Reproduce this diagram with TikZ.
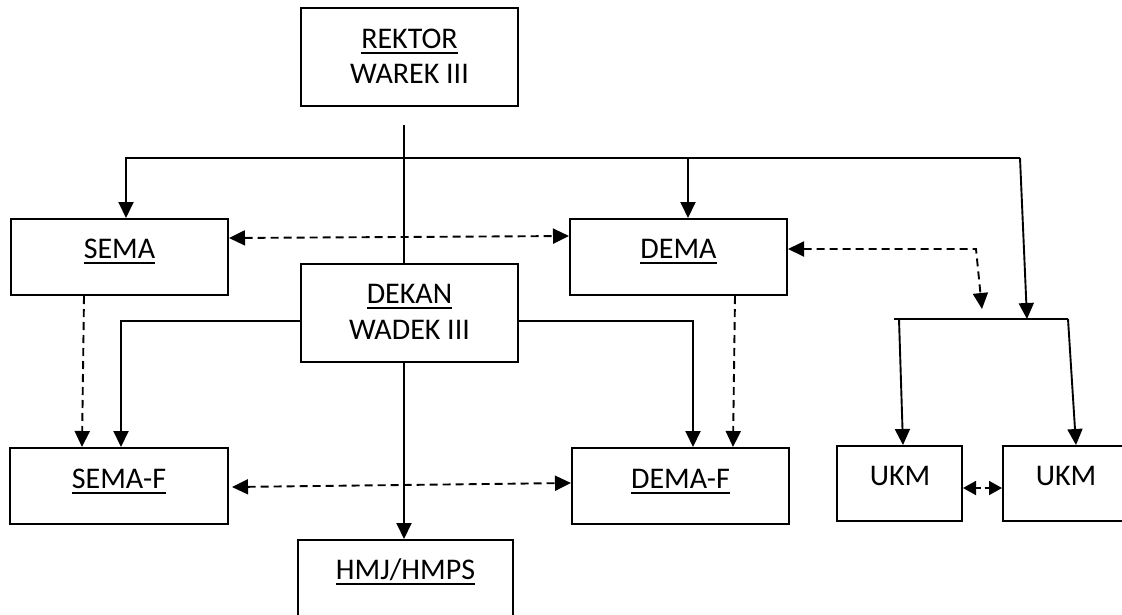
\documentclass[tikz,border=0pt]{standalone}
\usepackage{fontspec}
\setmainfont{Carlito}
\usetikzlibrary{arrows.meta,calc}
\newcommand\ulbox[1]{\setbox0\hbox{#1}\rlap{\rule[-5.5pt]{\wd0}{2pt}}\box0}
\tikzset{
  box/.style={draw, line width=2pt, fill=none, inner sep=0pt},
  lbl/.style={anchor=base, inner sep=0pt, font=\fontsize{30}{36}\selectfont},
  ln/.style={line width=1.9pt},
  tip/.style={},
  arr/.style={line width=1.9pt, -{Triangle[length=16pt,width=15pt]}},
  darr/.style={line width=1.9pt, dash pattern=on 8pt off 5pt, -{Triangle[length=16pt,width=15pt]}},
  ddarr/.style={line width=1.9pt, dash pattern=on 8pt off 5pt, {Triangle[length=16pt,width=15pt]}-{Triangle[length=16pt,width=15pt]}},
  sdarr/.style={line width=1.9pt, dash pattern=on 5pt off 4pt, {Triangle[length=13pt,width=14pt]}-{Triangle[length=13pt,width=14pt]}},
}
\begin{document}
\begin{tikzpicture}[x=1pt,y=-1pt]
\clip (0,0) rectangle (1122,614);
\fill[white] (0,0) rectangle (1122,614);
% boxes
\node[box, minimum width=217pt, minimum height=98pt] (rektor) at (409.5,57) {};
\node[box, minimum width=217pt, minimum height=76pt] (sema) at (119.5,257) {};
\node[box, minimum width=217pt, minimum height=76pt] (dema) at (678.5,257) {};
\node[box, minimum width=217pt, minimum height=98pt] (dekan) at (409.5,313) {};
\node[box, minimum width=218pt, minimum height=76pt] (semaf) at (119,486) {};
\node[box, minimum width=217pt, minimum height=76pt] (demaf) at (680.5,486) {};
\node[box, minimum width=215pt, minimum height=98pt] (hmj) at (405.5,589) {};
\node[box, minimum width=125pt, minimum height=75pt] (ukma) at (899.5,483.5) {};
\node[box, minimum width=126pt, minimum height=75pt] (ukmb) at (1066,483.5) {};
% labels
\node[lbl] (t1) at (409.5,48) {\ulbox{REKTOR}};
\node[lbl] (t2) at (409.5,83) {WAREK III};
\node[lbl] (t3) at (119.5,258) {\ulbox{SEMA}};
\node[lbl] (t4) at (678.5,258) {\ulbox{DEMA}};
\node[lbl] (t5) at (409.5,303) {\ulbox{DEKAN}};
\node[lbl] (t6) at (409.5,339) {WADEK III};
\node[lbl] (t7) at (119,488) {\ulbox{SEMA-F}};
\node[lbl] (t8) at (680.5,488) {\ulbox{DEMA-F}};
\node[lbl] (t9) at (405.5,579) {\ulbox{HMJ/HMPS}};
\node[lbl] (t10) at (900,485) {UKM};
\node[lbl] (t11) at (1066,485) {UKM};
% coordinates
\coordinate (rtop) at (404,125);
\coordinate (hl) at (126,158);
\coordinate (hd) at (688,158);
\coordinate (hr) at (1020,158);
\coordinate (bt) at (1027,319);
\coordinate (bl) at (894,319);
\coordinate (br) at (1068,319);
\coordinate (kl) at (121,321);
\coordinate (kr) at (693,321);
\coordinate (dc) at (976,249);
\coordinate (dt) at (982,309);
% connectors
\draw[ln] (rtop) -- (rtop |- dekan.north);
\draw[arr] (hr) -- (hl) -- (hl |- sema.north);
\draw[arr] (hd) -- (hd |- dema.north);
\draw[arr] (hr) -- (bt);
\draw[ln] (bl) -- (br);
\draw[arr] (899,319) -- ($(ukma.north)+(3.5,0)$);
\draw[arr] (br) -- ($(ukmb.north)+(10,0)$);
\draw[ddarr] (sema.east |- 0,238) -- (dema.west |- 0,236);
\draw[ddarr] (dema.east |- dc) -- (dc) -- (dt);
\draw[arr] (dekan.west |- kl) -- (kl) -- (kl |- semaf.north);
\draw[arr] (dekan.east |- kr) -- (kr) -- (kr |- demaf.north);
\draw[darr] (sema.south -| 84,0) -- (82,0 |- semaf.north);
\draw[darr] (dema.south -| 735,0) -- (733,0 |- demaf.north);
\draw[arr] (dekan.south -| rtop) -- (rtop |- hmj.north);
\draw[ddarr] ($(semaf.east)+(3,1)$) -- ($(demaf.west)+(0,-3)$);
\draw[sdarr] (ukma.east |- 0,488) -- (ukmb.west |- 0,488);
\end{tikzpicture}
\end{document}
